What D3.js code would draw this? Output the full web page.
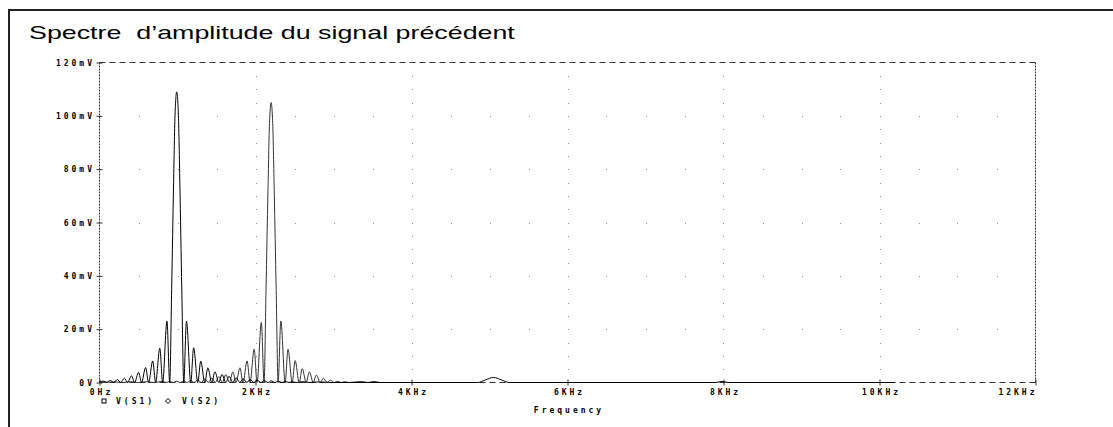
<!DOCTYPE html>
<html>
<head>
<meta charset="utf-8">
<script src="https://cdn.jsdelivr.net/npm/d3@7"></script>
<style>
  body { margin: 0; background: #fff; }
  .tick text { font-family: "DejaVu Sans Mono", monospace; font-weight: bold; font-size: 8px; letter-spacing: 3px; fill: #000; }
  .lbl { font-family: "DejaVu Sans Mono", monospace; font-weight: bold; font-size: 8px; letter-spacing: 3px; fill: #000; }
</style>
</head>
<body>
<svg id="chart" width="1113" height="427"></svg>
<script>
// axis ticks (Hz, mV)
const xTicks = [0, 2000, 4000, 6000, 8000, 10000, 12000]
const xTickLabels = ['0Hz', '2KHz', '4KHz', '6KHz', '8KHz', '10KHz', '12KHz']
const yTicks = [0, 20, 40, 60, 80, 100, 120]
const yTickLabels = ['0V', '20mV', '40mV', '60mV', '80mV', '100mV', '120mV']
const seriesNames = ['V(S1)', 'V(S2)']

// V(S1) spectrum, [frequency Hz, amplitude mV]
const s1 = [
  [0, 0.3], [50, 0.5], [90, 0], [140, 0.8], [180, 0], [230, 1.1], [270, 0],
  [320, 1.6], [360, 0], [410, 2.5], [450, 0], [500, 3.8], [540, 0], [591, 5.6],
  [630, 0], [682, 8.1], [720, 0], [773, 12.9], [810, 0], [865, 23], [900, 0],
  [925, 35], [950, 75], [968, 100], [990, 109], [1012, 100], [1030, 75], [1055, 35],
  [1080, 0], [1115, 23], [1170, 0], [1207, 13], [1260, 0], [1298, 8], [1350, 0],
  [1389, 5.5], [1440, 0], [1480, 4], [1530, 0], [1570, 3], [1620, 0], [1660, 2.3],
  [1710, 0], [1750, 1.8], [1800, 0], [1840, 1.4], [1890, 0], [1930, 1.1], [1980, 0],
  [2020, 0.9], [2070, 0], [2110, 0.7], [2160, 0], [2200, 0.6], [2250, 0], [2290, 0.5],
  [2340, 0], [2380, 0.4], [2430, 0], [2470, 0.3], [2520, 0], [2600, 0.3], [2700, 0],
  [2800, 0.2], [3000, 0], [4850, 0], [4950, 1.0], [5050, 1.9], [5150, 1.0], [5250, 0],
  [7900, 0], [7980, 0.4], [8060, 0], [10200, 0]
]

// V(S2) spectrum, [frequency Hz, amplitude mV]
const s2 = [
  [0, 0.1], [200, 0.2], [300, 0], [400, 0.3], [500, 0], [600, 0.3], [700, 0],
  [810, 0.4], [855, 0], [900, 0.4], [945, 0], [990, 0.5], [1035, 0], [1080, 0.6],
  [1125, 0], [1170, 0.8], [1215, 0], [1260, 1.0], [1305, 0], [1350, 1.3], [1395, 0],
  [1440, 1.7], [1485, 0], [1530, 2.2], [1575, 0], [1620, 3], [1665, 0], [1710, 4],
  [1750, 0], [1801, 5.5], [1840, 0], [1892, 8.1], [1930, 0], [1983, 12.5], [2020, 0],
  [2075, 22.5], [2110, 0], [2135, 35], [2160, 72], [2178, 96], [2200, 105], [2222, 96],
  [2240, 72], [2265, 35], [2290, 0], [2325, 23], [2380, 0], [2417, 12.5], [2470, 0],
  [2508, 8.2], [2560, 0], [2599, 5.2], [2650, 0], [2690, 4], [2740, 0], [2780, 2.75],
  [2830, 0], [2870, 1.6], [2920, 0], [2960, 0.9], [3010, 0], [3050, 0.5], [3100, 0],
  [3140, 0.3], [3200, 0], [3360, 0.4], [3440, 0], [3520, 0.4], [3600, 0], [4300, 0]
]

const svg = d3.select('#chart')

const x = d3.scaleLinear().domain([0, 12000]).range([99.5, 1035.5])
const y = d3.scaleLinear().domain([0, 120]).range([382.5, 62.5])

// outer frame (only top and left edges are visible)
svg.append('path')
  .attr('d', 'M9,427 V10 H1113')
  .attr('fill', 'none')
  .attr('stroke', '#222')
  .attr('stroke-width', 2)

// title is stretched horizontally like the rest of the picture
svg.append('text')
  .attr('transform', 'translate(29,39) scale(1.49,1)')
  .attr('font-family', 'Liberation Sans, Arial, sans-serif')
  .attr('font-size', 18)
  .attr('fill', '#000')
  .style('white-space', 'pre')
  .text('Spectre  d\u2019amplitude du signal précédent')

// dotted grid: dots along major lines at minor spacing
const grid = svg.append('g').attr('fill', '#999')
xTicks.slice(1, -1).forEach(f => {
  d3.range(5, 120, 5).forEach(v => {
    grid.append('rect').attr('x', Math.round(x(f))).attr('y', Math.round(y(v))).attr('width', 1).attr('height', 1)
  })
})
yTicks.slice(1, -1).forEach(v => {
  d3.range(500, 12000, 500).forEach(f => {
    grid.append('rect').attr('x', Math.round(x(f))).attr('y', Math.round(y(v))).attr('width', 1).attr('height', 1)
  })
})

// dashed plot frame
const frame = svg.append('g').attr('stroke', '#333').attr('fill', 'none')
frame.append('line').attr('x1', x(0)).attr('x2', x(12000)).attr('y1', y(120)).attr('y2', y(120)).attr('stroke-dasharray', '6,4')
frame.append('line').attr('x1', x(0)).attr('x2', x(12000)).attr('y1', y(0)).attr('y2', y(0)).attr('stroke-dasharray', '6,4')
frame.append('line').attr('x1', x(0)).attr('x2', x(0)).attr('y1', y(0)).attr('y2', y(120)).attr('stroke-dasharray', '2,1')
frame.append('line').attr('x1', x(12000)).attr('x2', x(12000)).attr('y1', y(0)).attr('y2', y(120)).attr('stroke-dasharray', '2,1')

// axes
const yAxis = svg.append('g')
  .attr('transform', `translate(${x(0)},0)`)
  .call(d3.axisLeft(y).tickValues(yTicks).tickSize(3).tickPadding(2).tickFormat((d, i) => yTickLabels[i]))
yAxis.select('.domain').remove()
yAxis.selectAll('.tick line').attr('x2', -3).attr('x1', 3).attr('stroke', '#333')
yAxis.selectAll('.tick text').attr('x', -4.5)

const xAxis = svg.append('g')
  .attr('transform', `translate(0,${y(0)})`)
  .call(d3.axisBottom(x).tickValues(xTicks).tickSize(3).tickPadding(4).tickFormat((d, i) => xTickLabels[i]))
xAxis.select('.domain').remove()
xAxis.selectAll('.tick line').attr('y1', -3).attr('y2', 3).attr('stroke', '#333')
xAxis.selectAll('.tick text').attr('dx', 1.5)
xAxis.selectAll('.tick text').filter((d, i) => i === xTicks.length - 1).attr('text-anchor', 'end').attr('dx', 1.5)

// traces
const line = d3.line()
  .x(d => x(d[0]))
  .y(d => y(d[1]))
  .curve(d3.curveMonotoneX)

svg.append('path').datum(s2)
  .attr('d', line).attr('fill', 'none').attr('stroke', '#333').attr('stroke-width', 1)
svg.append('path').datum(s1)
  .attr('d', line).attr('fill', 'none').attr('stroke', '#000').attr('stroke-width', 1)

// legend
const leg = svg.append('g')
leg.append('rect').attr('x', 102).attr('y', 399).attr('width', 4).attr('height', 4)
  .attr('fill', 'none').attr('stroke', '#000')
leg.append('text').attr('class', 'lbl').attr('x', 116).attr('y', 404).text(seriesNames[0])
leg.append('path').attr('d', 'M168,398.5 l2.5,2.5 l-2.5,2.5 l-2.5,-2.5 Z')
  .attr('fill', 'none').attr('stroke', '#000')
leg.append('text').attr('class', 'lbl').attr('x', 182).attr('y', 404).text(seriesNames[1])

svg.append('text').attr('class', 'lbl')
  .attr('x', (x(0) + x(12000)) / 2 + 1.5)
  .attr('y', 413)
  .attr('text-anchor', 'middle')
  .text('Frequency')
</script>
</body>
</html>
